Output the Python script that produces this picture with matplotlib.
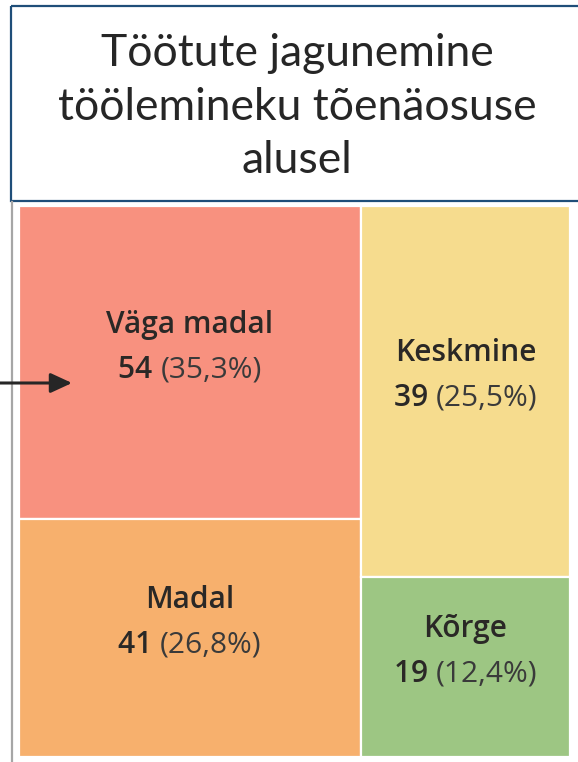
import matplotlib
matplotlib.use("Agg")
import matplotlib.pyplot as plt
from matplotlib.patches import Rectangle

# ---- data ----
categories = ["Väga madal", "Madal", "Keskmine", "Kõrge"]
counts = [54, 41, 39, 19]
percents = ["35,3%", "26,8%", "25,5%", "12,4%"]
colors = ["#F8917F", "#F7B06D", "#F6DC8E", "#9DC683"]
columns = [[0, 1], [2, 3]]   # treemap grouping into columns
title = "Töötute jagunemine\ntöölemineku tõenäosuse\nalusel"

W, H = 578, 762
fig = plt.figure(figsize=(W / 100, H / 100), dpi=100)

# treemap axes
x0, x1, y0, y1 = 19, 570, 206, 757
ax = fig.add_axes([x0 / W, 1 - y1 / H, (x1 - x0) / W, (y1 - y0) / H])
ax.set_zorder(0)
total = float(sum(counts))
ax.set_xlim(0, 1)
ax.set_ylim(1, 0)
ax.axis("off")

# overlay axes in pixel coordinates
bg = fig.add_axes([0, 0, 1, 1])
bg.set_zorder(1)
bg.set_xlim(0, W)
bg.set_ylim(H, 0)
bg.axis("off")

# title box
bg.add_patch(Rectangle((10.5, 5.5), 580, 195.5, fill=False, edgecolor="#1F4E79", lw=1.6, zorder=3))
bg.text(297, 107, title, ha="center", va="center", fontsize=32, family="Lato",
        color="#262626", linespacing=1.38, zorder=4)
# left gray rule
bg.plot([11.5, 11.5], [202, H], color="#A6A6A6", lw=1.6, zorder=3)

fig.canvas.draw()
renderer = fig.canvas.get_renderer()

FS = 21.5
xpos = 0.0
for col in columns:
    colsum = sum(counts[i] for i in col)
    cw = colsum / total
    ypos = 0.0
    for i in col:
        ch = counts[i] / colsum
        ax.add_patch(Rectangle((xpos, ypos), cw, ch, facecolor=colors[i],
                               edgecolor="white", lw=1.6))
        cx = xpos + cw / 2
        cy = ypos + ch / 2
        px = 1.0 / (x1 - x0)
        py = 1.0 / (y1 - y0)
        ty1 = cy - 38 * py
        ty2 = cy + 7 * py
        ax.text(cx, ty1, categories[i], ha="center", va="center", fontsize=FS,
                family="Open Sans", fontweight="semibold", color="#2A2826")
        a = ax.text(0, ty2, str(counts[i]) + " ", ha="left", va="center", fontsize=FS,
                    family="Open Sans", fontweight="semibold", color="#2A2826")
        b = ax.text(0, ty2, "(" + percents[i] + ")", ha="left", va="center", fontsize=FS,
                    family="Open Sans", color="#3A3A3A")
        wa = a.get_window_extent(renderer).width
        wb = b.get_window_extent(renderer).width
        left = cx - (wa + wb) / 2 * px
        a.set_x(left)
        b.set_x(left + wa * px)
        ypos += ch
    xpos += cw

# arrow
bg.annotate("", xy=(72, 383), xytext=(0, 383),
            arrowprops=dict(arrowstyle="-|>,head_length=1.3,head_width=0.6",
                            color="#262626", lw=2.2, shrinkA=0, shrinkB=0), zorder=5)

fig.savefig("out.png", dpi=100)
